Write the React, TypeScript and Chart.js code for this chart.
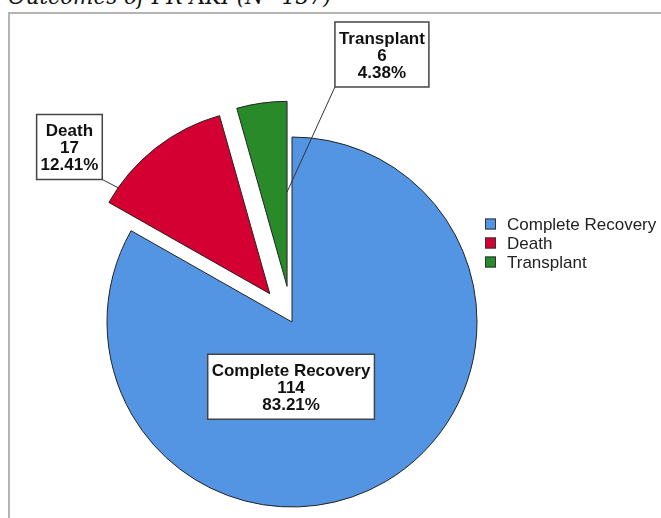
import React, { useEffect, useRef } from "react";
import { Chart, registerables } from "chart.js";

Chart.register(...registerables);

// ---- data ----
const categories = ["Complete Recovery", "Death", "Transplant"];
const counts = [114, 17, 6];
const sliceColors = ["#5495E3", "#D30031", "#288A28"];
const explodePx = [0, 36, 36];
const titleText = "Outcomes of PR-AKI (N=137)";

// ---- layout constants (not data) ----
const LABEL_FONT = "bold 17px 'Liberation Sans', Arial, sans-serif";
const LEGEND_FONT = "17px 'Liberation Sans', Arial, sans-serif";
const LINE_H = 17;
const PAD_X = 4;
const PAD_Y = 7;
// label box centers relative to pie center in radius units
const labelAnchors = [
  [-0.005, 0.35],
  [-1.203, -0.946],
  [0.486, -1.446],
];

// move exploded slices outward along their mid-angle (pure translation)
const explodePlugin = {
  id: "explode",
  afterDatasetUpdate(chart: any, args: any) {
    const meta = args.meta;
    meta.data.forEach((arc: any, i: number) => {
      const e = explodePx[i] || 0;
      if (!e) return;
      const mid = (arc.startAngle + arc.endAngle) / 2;
      arc.x += Math.cos(mid) * e;
      arc.y += Math.sin(mid) * e;
    });
  },
};

const labelPlugin = {
  id: "sliceLabels",
  afterDatasetsDraw(chart: any) {
    const ctx = chart.ctx;
    const meta = chart.getDatasetMeta(0);
    const data = chart.data.datasets[0].data as number[];
    const total = data.reduce((a, b) => a + b, 0);
    const base = meta.data[0];
    const r = base.outerRadius;
    ctx.save();
    ctx.font = LABEL_FONT;

    const boxes: any[] = [];
    data.forEach((v, i) => {
      const lines = [
        String(chart.data.labels[i]),
        String(v),
        ((v / total) * 100).toFixed(2) + "%",
      ];
      const w = Math.max(...lines.map((l) => ctx.measureText(l).width)) + PAD_X * 2;
      const h = lines.length * LINE_H + PAD_Y * 2;
      const cx = base.x + labelAnchors[i][0] * r;
      const cy = base.y + labelAnchors[i][1] * r;
      boxes.push({ x: cx - w / 2, y: cy - h / 2, w, h, cx, cy, lines });
    });

    // leader lines
    ctx.strokeStyle = "#333";
    ctx.lineWidth = 1;
    {
      const a = meta.data[1];
      const ang = a.startAngle + 0.12 * (a.endAngle - a.startAngle);
      const ex = a.x + Math.cos(ang) * a.outerRadius;
      const ey = a.y + Math.sin(ang) * a.outerRadius;
      const b = boxes[1];
      ctx.beginPath();
      ctx.moveTo(b.x + b.w, b.y + b.h);
      ctx.lineTo(ex, ey);
      ctx.stroke();
    }
    {
      const a = meta.data[2];
      const ang = a.endAngle;
      const ex = a.x + Math.cos(ang) * a.outerRadius * 0.51;
      const ey = a.y + Math.sin(ang) * a.outerRadius * 0.51;
      const b = boxes[2];
      ctx.beginPath();
      ctx.moveTo(b.x, b.y + b.h);
      ctx.lineTo(ex, ey);
      ctx.stroke();
    }

    boxes.forEach((b) => {
      ctx.fillStyle = "#ffffff";
      ctx.fillRect(b.x, b.y, b.w, b.h);
      ctx.strokeStyle = "#444";
      ctx.lineWidth = 1.5;
      ctx.strokeRect(b.x, b.y, b.w, b.h);
      ctx.fillStyle = "#111";
      ctx.textAlign = "center";
      ctx.textBaseline = "middle";
      b.lines.forEach((l: string, k: number) => {
        ctx.fillText(l, b.cx, b.cy + (k - 1) * LINE_H + 1.5);
      });
    });

    // legend
    ctx.font = LEGEND_FONT;
    ctx.textAlign = "left";
    ctx.textBaseline = "middle";
    const lx = 485;
    const ly = 224;
    const step = 19;
    chart.data.labels.forEach((lab: string, i: number) => {
      const y = ly + i * step;
      ctx.fillStyle = sliceColors[i];
      ctx.fillRect(lx, y - 5.5, 11, 11);
      ctx.strokeStyle = "#333";
      ctx.lineWidth = 1;
      ctx.strokeRect(lx + 0.5, y - 5.5 + 0.5, 10, 10);
      ctx.fillStyle = "#222";
      ctx.fillText(lab, 507, y + 1);
    });
    ctx.restore();
  },
};

export default function App() {
  const ref = useRef<HTMLCanvasElement | null>(null);

  useEffect(() => {
    if (!ref.current) return;
    const chart = new Chart(ref.current, {
      type: "pie",
      data: {
        labels: categories,
        datasets: [
          {
            data: counts,
            backgroundColor: sliceColors,
            borderColor: "#222",
            borderWidth: 1,
            radius: 185,
            clip: false,
          } as any,
        ],
      },
      options: {
        responsive: false,
        animation: false,
        events: [],
        layout: { padding: { left: 96, right: 173, top: 126, bottom: 0 } },
        plugins: {
          legend: { display: false },
          tooltip: { enabled: false },
          title: { display: false },
        },
      },
      plugins: [explodePlugin, labelPlugin],
    });
    return () => chart.destroy();
  }, []);

  return (
    <div
      style={{
        position: "fixed",
        left: 0,
        top: 0,
        width: 661,
        height: 518,
        overflow: "hidden",
        background: "#fff",
      }}
    >
      <div
        style={{
          position: "absolute",
          left: 8,
          top: -14,
          fontFamily: "'DejaVu Serif', serif",
          fontStyle: "italic",
          fontSize: 21.5,
          lineHeight: "22px",
          whiteSpace: "nowrap",
          color: "#111",
        }}
      >
        {titleText}
      </div>
      <div
        style={{
          position: "absolute",
          left: 8,
          top: 12,
          width: 700,
          height: 600,
          borderLeft: "2px solid #b4b4b4",
          borderTop: "2px solid #b4b4b4",
        }}
      />
      <canvas
        ref={ref}
        width={661}
        height={518}
        style={{ position: "absolute", left: 0, top: 0 }}
      />
    </div>
  );
}
